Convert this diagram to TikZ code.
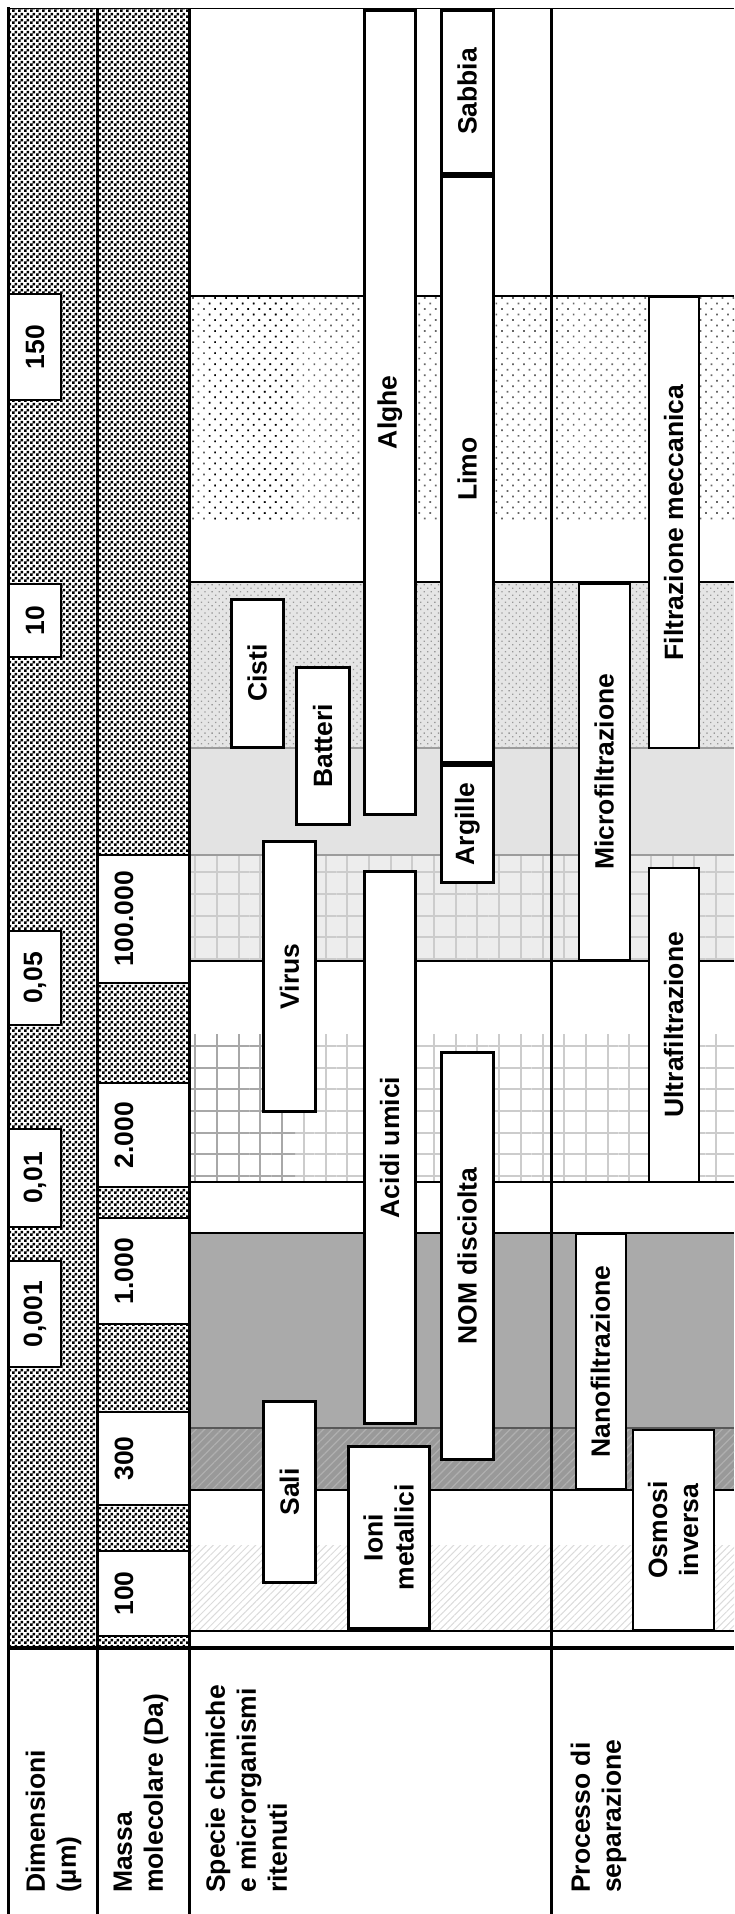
\documentclass[tikz,border=0pt]{standalone}
\usepackage{fontspec}
\setmainfont{Liberation Sans}
\usetikzlibrary{patterns,patterns.meta}

\pgfdeclarepatternformonly{checker}{\pgfqpoint{0pt}{0pt}}{\pgfqpoint{6pt}{6pt}}{\pgfqpoint{6pt}{6pt}}{%
  \pgfpathrectangle{\pgfqpoint{0pt}{0pt}}{\pgfqpoint{3pt}{3pt}}%
  \pgfpathrectangle{\pgfqpoint{3pt}{3pt}}{\pgfqpoint{3pt}{3pt}}%
  \pgfusepath{fill}}

\definecolor{dotgray}{gray}{0.4}
\definecolor{bandten}{gray}{0.9}
\definecolor{dotten}{gray}{0.6}
\definecolor{bandlight}{gray}{0.89}
\definecolor{gridbg}{gray}{0.93}
\definecolor{gridline}{gray}{0.8}
\definecolor{griddark}{gray}{0.66}
\definecolor{banddark}{gray}{0.667}
\definecolor{bandhatch}{gray}{0.6}
\definecolor{hatchline}{gray}{0.69}
\definecolor{hatchlight}{gray}{0.86}
\definecolor{edgegray}{gray}{0.35}

\newcommand{\labfont}{\fontsize{26.5}{31}\selectfont\bfseries}

\begin{document}
\begin{tikzpicture}[x=1pt,y=-1pt,
    sbox/.style={draw,line width=3pt,fill=white,rotate=90,inner sep=0pt,align=center,font=\labfont},
    pbox/.style={sbox,line width=2pt},
    vbox/.style={draw,line width=2pt,fill=white,rotate=90,inner sep=0pt,font=\labfont},
    mbox/.style={draw,line width=1.5pt,fill=white,inner sep=0pt,minimum width=92pt},
    vlabel/.style={rotate=90,inner sep=0pt,font=\labfont},
    head/.style={rotate=90,anchor=north west,inner sep=0pt,align=left,font=\labfont},
    rule/.style={line width=1.5pt},
    colrule/.style={line width=3pt}]
        \useasboundingbox (0,0) rectangle (734,1914);

        % Scale columns
        \fill[pattern=checker] (8,8.5) rectangle (189,1648);

        % Size bands
        \fill[pattern={Dots[distance=7.8pt,angle=45,radius=1.2pt]},pattern color=dotgray] (189,296) rectangle (734,520);
        \fill[pattern={Dots[distance=7.8pt,angle=45,radius=1.1pt]},pattern color=black] (209,296) rectangle (293,520);
        \fill[bandten] (189,582) rectangle (734,748);
        \fill[pattern={Dots[distance=5pt,angle=45,radius=0.9pt]},pattern color=dotten] (189,582) rectangle (734,748);
        \fill[bandlight] (189,748) rectangle (734,855);
        \fill[gridbg] (189,855) rectangle (734,961);
        \fill[pattern={Hatch[angle=0,distance=21.7pt,line width=2pt]},pattern color=gridline] (189,855) rectangle (734,961);
        \fill[pattern={Hatch[angle=0,distance=21.7pt,line width=2pt]},pattern color=gridline] (189,1034) rectangle (734,1182);
        \fill[pattern={Hatch[angle=0,distance=21.7pt,line width=2pt]},pattern color=griddark] (189,1034) rectangle (295,1182);
        \fill[banddark] (189,1233) rectangle (734,1428);
        \fill[bandhatch] (189,1428) rectangle (734,1490);
        \fill[pattern={Lines[angle=45,distance=6pt,line width=1.2pt]},pattern color=hatchline] (189,1428) rectangle (734,1490);
        \fill[pattern={Lines[angle=45,distance=5pt,line width=1pt]},pattern color=hatchlight] (189,1545) rectangle (734,1631);

        % Rules
        \draw[rule] (8,8.5) -- (734,8.5);
        \draw[rule] (189,296) -- (734,296);
        \draw[rule] (189,582) -- (734,582);
        \draw[rule,edgegray!60] (189,748) -- (734,748);
        \draw[rule,edgegray!60] (189,855) -- (734,855);
        \draw[rule] (189,961) -- (734,961);
        \draw[rule] (189,1182) -- (734,1182);
        \draw[rule] (189,1233) -- (734,1233);
        \draw[line width=2pt,edgegray] (189,1428) -- (734,1428);
        \draw[rule] (189,1490) -- (734,1490);
        \draw[rule] (189,1631) -- (734,1631);

        % Molecular mass boxes
        \node[mbox,minimum height=128pt] (m100000) at (143,919) {};
        \node[mbox,minimum height=104pt] (m2000) at (143,1135) {};
        \node[mbox,minimum height=106pt] (m1000) at (143,1271) {};
        \node[mbox,minimum height=93pt] (m300) at (143,1458.5) {};
        \node[mbox,minimum height=85pt] (m100) at (143,1593.5) {};
        \node[vlabel] (m100000t) at (124,919) {100.000};
        \node[vlabel] (m2000t) at (124,1135) {2.000};
        \node[vlabel] (m1000t) at (124,1271) {1.000};
        \node[vlabel] (m300t) at (124,1458.5) {300};
        \node[vlabel] (m100t) at (124,1593.5) {100};

        % Size boxes
        \node[vbox,minimum width=106pt,minimum height=52pt] (d150) at (35,347) {150};
        \node[vbox,minimum width=73pt,minimum height=52pt] (d10) at (35,620.5) {10};
        \node[vbox,minimum width=94pt,minimum height=52pt] (d005) at (35,978) {0,05};
        \node[vbox,minimum width=98pt,minimum height=52pt] (d001) at (35,1178) {0,01};
        \node[vbox,minimum width=106pt,minimum height=52pt] (d0001) at (35,1314) {0,001};

        % Column rules
        \draw[colrule] (8,7) -- (8,1914);
        \draw[colrule] (97,8.5) -- (97,1914);
        \draw[colrule] (189,8.5) -- (189,1914);
        \draw[line width=2.5pt] (551.5,8.5) -- (551.5,1914);
        \draw[line width=4pt] (8,1648) -- (734,1648);

        % Species
        \node[sbox,minimum width=804.5pt,minimum height=51.5pt] (alghe) at (389.75,412.25) {Alghe};
        \node[sbox,minimum width=163pt,minimum height=51.5pt] (sabbia) at (467.25,91.5) {Sabbia};
        \node[sbox,minimum width=586.5pt,minimum height=51.5pt] (limo) at (467.25,469.25) {Limo};
        \node[sbox,minimum width=117pt,minimum height=51.5pt] (argille) at (467.25,824) {Argille};
        \node[sbox,minimum width=148.5pt,minimum height=52.5pt] (cisti) at (257.25,673.25) {Cisti};
        \node[sbox,minimum width=156.5pt,minimum height=52.5pt] (batteri) at (322.75,745.75) {Batteri};
        \node[sbox,minimum width=270pt,minimum height=52pt] (virus) at (289.5,976.5) {Virus};
        \node[sbox,minimum width=552pt,minimum height=51.5pt] (acidi) at (389.75,1147.5) {Acidi umici};
        \node[sbox,minimum width=407pt,minimum height=51.5pt] (nom) at (467.25,1256) {NOM disciolta};
        \node[sbox,minimum width=181pt,minimum height=52pt] (sali) at (289.5,1492) {Sali};
        \node[sbox,minimum width=182pt,minimum height=81.5pt] (ioni) at (388.75,1537.5) {Ioni\\metallici};

        % Separation processes
        \node[pbox,minimum width=451pt,minimum height=50.5pt] (filtmecc) at (673.75,522.5) {Filtrazione meccanica};
        \node[pbox,minimum width=376.5pt,minimum height=50.5pt] (microf) at (604.25,771.75) {Microfiltrazione};
        \node[pbox,minimum width=314.5pt,minimum height=50.5pt] (ultraf) at (673.75,1024.75) {Ultrafiltrazione};
        \node[pbox,minimum width=255pt,minimum height=50pt] (nanof) at (600.5,1361.5) {Nanofiltrazione};
        \node[pbox,minimum width=200pt,minimum height=80.5pt] (osmosi) at (673.25,1530) {Osmosi\\inversa};

        % Headers
        \node[head] (hdim) at (25.4,1893) {Dimensioni\\(µm)};
        \node[head] (hmassa) at (113.4,1893) {Massa\\molecolare (Da)};
        \node[head] (hspecie) at (205.4,1893) {Specie chimiche\\e microrganismi\\ritenuti};
        \node[head] (hproc) at (570.4,1893) {Processo di\\separazione};
    \end{tikzpicture}
\end{document}
